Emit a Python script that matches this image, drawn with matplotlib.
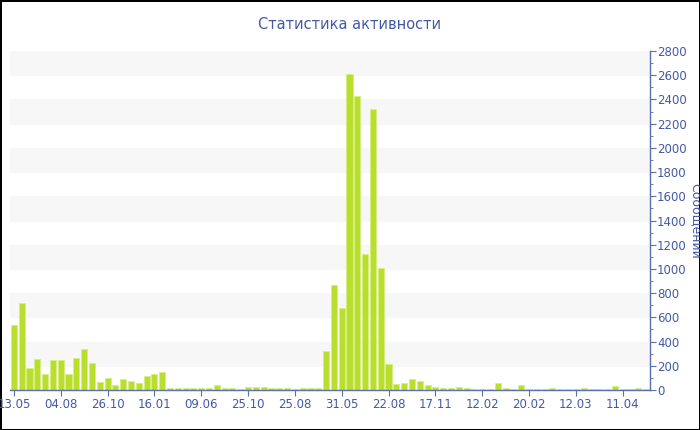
# Activity stats chart: weekly message counts, value axis on the right.

import numpy as np
import matplotlib.pyplot as plt
from matplotlib.ticker import MultipleLocator

# message counts per period
counts = [540, 720, 185, 260, 130, 245, 248, 130, 267, 340,
          222, 66, 99, 40, 94, 77, 58, 113, 132, 145,
          15, 15, 19, 19, 19, 14, 41, 14, 14, 8,
          27, 27, 22, 14, 14, 14, 8, 14, 14, 14,
          325, 870, 680, 2610, 2430, 1120, 2320, 1005, 212, 50,
          57, 91, 74, 43, 22, 17, 17, 23, 19, 11,
          8, 8, 55, 16, 8, 41, 8, 8, 11, 14,
          11, 8, 8, 14, 11, 11, 8, 30, 11, 8,
          16, 11]
tickLabels = ['13.05', '04.08', '26.10', '16.01', '09.06', '25.10', '25.08',
              '31.05', '22.08', '17.11', '12.02', '20.02', '12.03', '11.04']
tickStep = 6
yMax = 2800

textColor = '#4459a4'
axisColor = '#5b6eae'
barColor = '#bade2e'

fig = plt.figure(figsize=(7, 4.3), dpi=100)
fig.patch.set_edgecolor('black')
fig.patch.set_linewidth(2)
ax = fig.add_axes([10/700, 40/430, 640/700, 339/430])

# alternating background bands
for lo in range(200, yMax, 400):
    ax.axhspan(lo, lo + 200, color='#f7f7f7', zorder=0)

ind = np.arange(len(counts))
ax.bar(ind, counts, width=0.78, color=barColor, edgecolor='#d6ee80',
       linewidth=0.6, zorder=2)

ax.set_xlim(-0.5, len(counts) - 0.5)
ax.set_ylim(0, yMax)
ax.set_xticks(ind[::tickStep])
ax.set_xticklabels(tickLabels)
ax.yaxis.tick_right()
ax.yaxis.set_major_locator(MultipleLocator(200))
ax.yaxis.set_minor_locator(MultipleLocator(100))
ax.tick_params(axis='both', colors=axisColor, labelcolor=textColor, labelsize=8.5)
ax.tick_params(axis='y', which='major', length=4, pad=1)
ax.tick_params(axis='y', which='minor', length=2, color=axisColor)
ax.tick_params(axis='x', length=4, pad=2)

for s in ['top', 'left']:
    ax.spines[s].set_visible(False)
for s in ['bottom', 'right']:
    ax.spines[s].set_color(axisColor)
    ax.spines[s].set_linewidth(1)

ax.set_ylabel('Сообщений', color=textColor, fontsize=9, rotation=270,
              va='center', ha='center')
ax.yaxis.set_label_position('right')
ax.yaxis.set_label_coords(1.082, 0.5)

fig.text(0.5, 0.942, 'Статистика активности', color=textColor,
         fontsize=10.5, ha='center', va='center')

fig.savefig('out.png', dpi=100, edgecolor=fig.get_edgecolor())
